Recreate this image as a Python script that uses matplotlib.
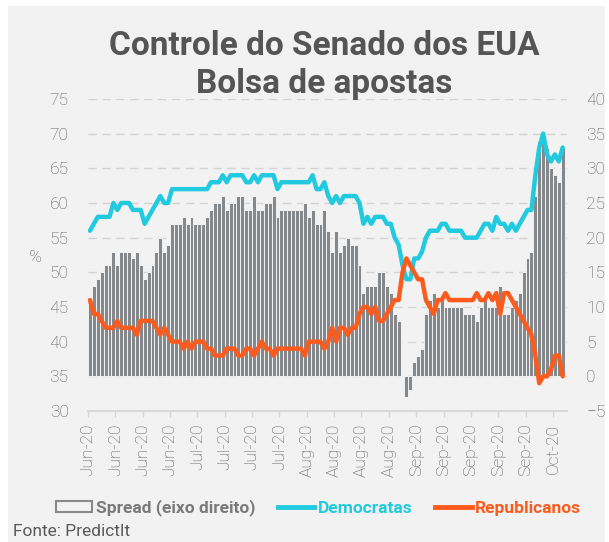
import matplotlib
matplotlib.use('Agg')
import matplotlib.pyplot as plt
import matplotlib.dates as mdates
import matplotlib.ticker as mticker
from matplotlib.patches import Rectangle, Patch
from matplotlib.lines import Line2D
import pandas as pd

# ---------------- data ----------------
start_date = '2020-06-09'
n_days = 122
dates = pd.date_range(start_date, periods=n_days, freq='D')

democratas = [
    56, 57, 58, 58, 58, 58, 60, 59, 60, 60,
    60, 59, 59, 59, 57, 58, 59, 60, 61, 60,
    60, 62, 62, 62, 62, 62, 62, 62, 62, 62,
    62, 63, 63, 63, 64, 63, 64, 64, 64, 64,
    63, 63, 64, 63, 64, 64, 64, 64, 62, 63,
    63, 63, 63, 63, 63, 63, 63, 64, 62, 62,
    63, 61, 60, 61, 60, 61, 61, 61, 61, 60,
    57, 58, 57, 58, 58, 58, 57, 57, 55, 54,
    51, 49, 49, 52, 52, 53, 55, 56, 56, 56,
    57, 57, 56, 56, 56, 56, 55, 55, 55, 55,
    56, 57, 57, 56, 58, 57, 57, 56, 57, 56,
    57, 58, 59, 59, 64, 68, 70, 67, 66, 67,
    66, 68]

republicanos = [
    46, 44, 44, 43, 42, 42, 42, 43, 42, 42,
    42, 42, 41, 43, 43, 43, 43, 42, 41, 42,
    41, 40, 40, 40, 39, 40, 39, 40, 40, 40,
    39, 39, 38, 38, 38, 39, 39, 39, 38, 38,
    39, 39, 38, 39, 40, 39, 39, 38, 39, 39,
    39, 39, 39, 39, 39, 38, 40, 40, 40, 40,
    39, 40, 42, 40, 42, 42, 41, 42, 42, 44,
    45, 45, 44, 45, 43, 43, 44, 45, 46, 46,
    50, 52, 51, 50, 49, 49, 46, 45, 44, 46,
    46, 47, 46, 46, 46, 46, 46, 46, 46, 47,
    46, 46, 47, 46, 47, 44, 47, 47, 46, 45,
    44, 43, 42, 41, 38, 34, 35, 35, 36, 38,
    38, 35]

spread = [
    11, 13, 14, 15, 16, 16, 18, 16, 18, 18,
    18, 17, 18, 16, 14, 15, 16, 18, 20, 18,
    19, 22, 22, 22, 23, 22, 23, 22, 22, 22,
    23, 24, 25, 25, 26, 24, 25, 25, 26, 26,
    24, 24, 26, 24, 24, 25, 25, 26, 23, 24,
    24, 24, 24, 24, 24, 25, 23, 24, 22, 22,
    24, 21, 18, 21, 18, 19, 20, 19, 19, 16,
    12, 13, 13, 13, 15, 15, 13, 12, 9, 8,
    0, -3, -2, 2, 3, 4, 9, 11, 12, 10,
    11, 10, 10, 10, 10, 10, 9, 9, 9, 8,
    10, 11, 10, 10, 10, 13, 9, 9, 10, 11,
    12, 15, 17, 18, 26, 34, 35, 33, 30, 29,
    28, 33]

left_ticks = [30, 35, 40, 45, 50, 55, 60, 65, 70, 75]
right_ticks = [-5, 0, 5, 10, 15, 20, 25, 30, 35, 40]

title_text = 'Controle do Senado dos EUA\nBolsa de apostas'
legend_labels = ['Spread (eixo direito)', 'Democratas', 'Republicanos']
source_text = 'Fonte: PredictIt'

# ---------------- style ----------------
W, H = 609, 542
BG = '#f2f2f2'
C_DEM = '#22cadf'
C_REP = '#fd5b1e'
C_BAR = '#85898b'
C_TXT = '#595959'
C_GRID = '#d3d3d3'
FONT = 'Roboto'

fig = plt.figure(figsize=(W / 100, H / 100), dpi=100)
fig.patch.set_facecolor('white')
fig.patches.append(Rectangle((8 / W, 0), (605 - 8) / W, (542 - 6) / H,
                             transform=fig.transFigure, facecolor=BG,
                             edgecolor='none', zorder=-10))

x0, x1, ytop, ybot = 88, 567, 99, 411
ax = fig.add_axes([x0 / W, 1 - ybot / H, (x1 - x0) / W, (ybot - ytop) / H])
ax2 = ax.twinx()
ax.set_zorder(ax2.get_zorder() + 1)
ax.patch.set_visible(False)
ax2.patch.set_visible(False)

d0 = mdates.date2num(pd.Timestamp(start_date))
xd = mdates.date2num(dates)

# bars (right axis)
ax2.bar(xd, spread, width=1.0, align='edge', color=C_BAR,
        edgecolor=BG, linewidth=0.7, zorder=2)
ax2.set_ylim(-5, 40)
ax2.set_yticks(right_ticks)
ax2.set_axisbelow(True)
ax2.grid(axis='y', color=C_GRID, linestyle=(0, (6, 4)), linewidth=1.0, zorder=0)
ax2.yaxis.get_gridlines()[0].set_visible(False)

# lines (left axis)
ax.plot(xd + 0.5, democratas, color=C_DEM, lw=3.2, solid_joinstyle='round',
        solid_capstyle='round', zorder=5)
ax.plot(xd + 0.5, republicanos, color=C_REP, lw=3.2, solid_joinstyle='round',
        solid_capstyle='round', zorder=5)
ax.set_ylim(30, 75)
ax.set_yticks(left_ticks)

ax.set_xlim(d0, d0 + 122.6)
ax.xaxis.set_major_locator(mticker.FixedLocator([d0 + 7 * i for i in range(18)]))
ax.xaxis.set_major_formatter(mdates.DateFormatter('%b-%y'))

for s in ['top', 'left', 'right']:
    ax.spines[s].set_visible(False)
for s in ax2.spines.values():
    s.set_visible(False)
ax.spines['bottom'].set_color('#d6d6d6')
ax.spines['bottom'].set_linewidth(1.3)

ax.tick_params(axis='x', colors='#d6d6d6', direction='out', length=4, width=1,
               labelcolor=C_TXT, labelsize=12.5, pad=5, labelrotation=90)
ax.tick_params(axis='y', length=0, labelcolor=C_TXT, labelsize=12.5, pad=14)
ax2.tick_params(axis='y', length=0, labelcolor=C_TXT, labelsize=12.5, pad=14)
for lab in ax.get_xticklabels() + ax.get_yticklabels() + ax2.get_yticklabels():
    lab.set_fontfamily(FONT)
    lab.set_fontweight('light')

fig.text(36 / W, 1 - 257 / H, '%', ha='center', va='center', color=C_TXT,
         fontsize=12.5, family=FONT, weight='light')

fig.text(324 / W, 1 - 65 / H, title_text, ha='center', va='center',
         color='#555555', fontsize=24, family=FONT, weight='bold', linespacing=1.22)

handles = [Patch(facecolor='none', edgecolor='#8a8a8a', linewidth=1.5),
           Line2D([0], [0], color=C_DEM, lw=3.5),
           Line2D([0], [0], color=C_REP, lw=3.5)]
leg = fig.legend(handles, legend_labels, loc='center', ncol=3,
                 bbox_to_anchor=(318.5 / W, 1 - 508 / H), frameon=False,
                 handlelength=2.1, handleheight=0.6, handletextpad=0.2,
                 columnspacing=1.3,
                 prop=dict(family=FONT, weight='bold', size=12.5))
for t, c in zip(leg.get_texts(), ['#7a7a7a', C_DEM, C_REP]):
    t.set_color(c)

fig.text(13 / W, 1 - 532 / H, source_text, ha='left', va='center', color=C_TXT,
         fontsize=12.5, family=FONT)

fig.savefig('out.png', dpi=100, facecolor=fig.get_facecolor())
